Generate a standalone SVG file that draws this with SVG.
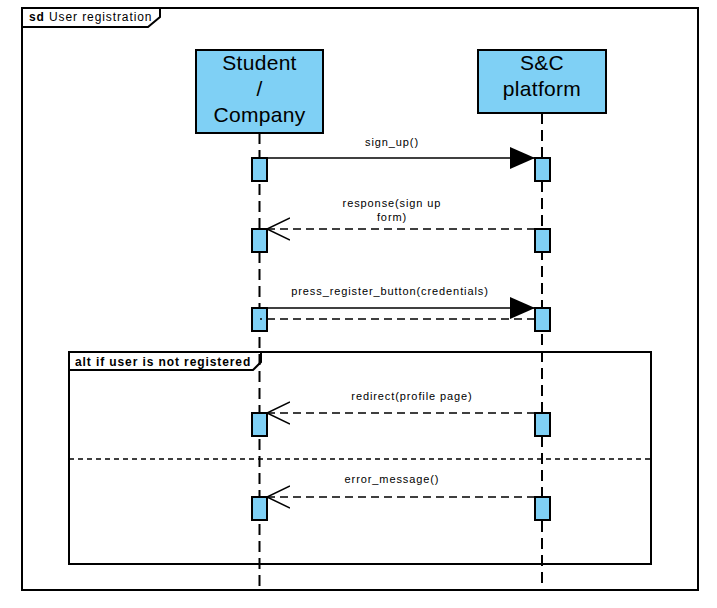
<svg xmlns="http://www.w3.org/2000/svg" width="717" height="608" viewBox="0 0 717 608">
<style>
.frame{fill:none;stroke:#000;stroke-width:2}
.box{fill:#7fd0f5;stroke:#000;stroke-width:2}
.bar{fill:#7fd0f5;stroke:#000;stroke-width:2}
.life{stroke:#000;stroke-width:2;stroke-dasharray:11 6;fill:none}
.msg{stroke:#000;stroke-width:1.5;fill:none}
.ret{stroke:#000;stroke-width:1.5;fill:none;stroke-dasharray:8 5}
.sep{stroke:#000;stroke-width:1.5;fill:none;stroke-dasharray:5 4}
.big{font-family:"Liberation Sans",Arial,sans-serif;font-size:21px;text-anchor:middle;fill:#000;letter-spacing:0.3px}
.lbl{font-family:"Liberation Sans",Arial,sans-serif;font-size:11px;text-anchor:middle;fill:#000;letter-spacing:0.9px}
.tab{font-family:"Liberation Sans",Arial,sans-serif;font-size:12px;fill:#000;letter-spacing:0.9px}
</style>
<defs>
<marker id="filled" markerWidth="26" markerHeight="24" refX="25" refY="12" orient="auto" markerUnits="userSpaceOnUse">
<path d="M0,1 L25,12 L0,23 Z" fill="#000"/>
</marker>
<marker id="open" markerWidth="26" markerHeight="26" refX="23" refY="12" orient="auto" markerUnits="userSpaceOnUse">
<path d="M0,1 L23,12 L0,23" fill="none" stroke="#000" stroke-width="1.5"/>
</marker>
</defs>
<rect x="0" y="0" width="717" height="608" fill="#fff"/>
<g id="frame-sd">
<rect class="frame" x="22" y="8" width="676" height="582"/>
<path class="frame" d="M22,27 L148,27 L160,17 L160,8" stroke-width="1.5"/>
<text class="tab" x="29" y="21"><tspan font-weight="bold">sd</tspan> User registration</text>
</g>
<g id="lifelines">
<line class="life" x1="259.5" y1="133" x2="259.5" y2="590"/>
<line class="life" x1="542" y1="113" x2="542" y2="590"/>
</g>
<g id="node-student">
<rect class="box" x="196" y="50" width="127" height="83"/>
<text class="big" x="259.5" y="70">Student</text>
<text class="big" x="259.5" y="96">/</text>
<text class="big" x="259.5" y="122">Company</text>
</g>
<g id="node-platform">
<rect class="box" x="478" y="50" width="128" height="63"/>
<text class="big" x="542" y="70">S&amp;C</text>
<text class="big" x="542" y="96">platform</text>
</g>
<g id="frame-alt">
<rect class="frame" x="69" y="352" width="582" height="212"/>
<path class="frame" d="M69,370 L253,370 L261,362 L261,352" stroke-width="1.5"/>
<text class="tab" x="75" y="366" font-weight="bold">alt if user is not registered</text>
<line class="sep" x1="69" y1="459" x2="651" y2="459"/>
</g>
<g id="activations">
<rect class="bar" x="252" y="158" width="15" height="23"/>
<rect class="bar" x="535" y="158" width="15" height="23"/>
<rect class="bar" x="252" y="229" width="15" height="23"/>
<rect class="bar" x="535" y="229" width="15" height="23"/>
<rect class="bar" x="252" y="308" width="15" height="23"/>
<rect class="bar" x="535" y="308" width="15" height="23"/>
<rect class="bar" x="252" y="413" width="15" height="23"/>
<rect class="bar" x="535" y="413" width="15" height="23"/>
<rect class="bar" x="252" y="497" width="15" height="23"/>
<rect class="bar" x="535" y="497" width="15" height="23"/>
</g>
<g id="connectors">
<line class="msg" x1="267" y1="158" x2="535" y2="158" marker-end="url(#filled)"/>
<text class="lbl" x="392" y="146">sign_up()</text>
<line class="ret" x1="535" y1="229" x2="267" y2="229" marker-end="url(#open)"/>
<text class="lbl" x="392" y="207">response(sign up</text>
<text class="lbl" x="392" y="221">form)</text>
<line class="msg" x1="267" y1="308" x2="535" y2="308" marker-end="url(#filled)"/>
<text class="lbl" x="390" y="295">press_register_button(credentials)</text>
<line class="ret" x1="535" y1="319" x2="260" y2="319"/>
<line class="ret" x1="535" y1="413" x2="267" y2="413" marker-end="url(#open)"/>
<text class="lbl" x="412" y="400">redirect(profile page)</text>
<line class="ret" x1="535" y1="497" x2="267" y2="497" marker-end="url(#open)"/>
<text class="lbl" x="392" y="483">error_message()</text>
</g>
</svg>
